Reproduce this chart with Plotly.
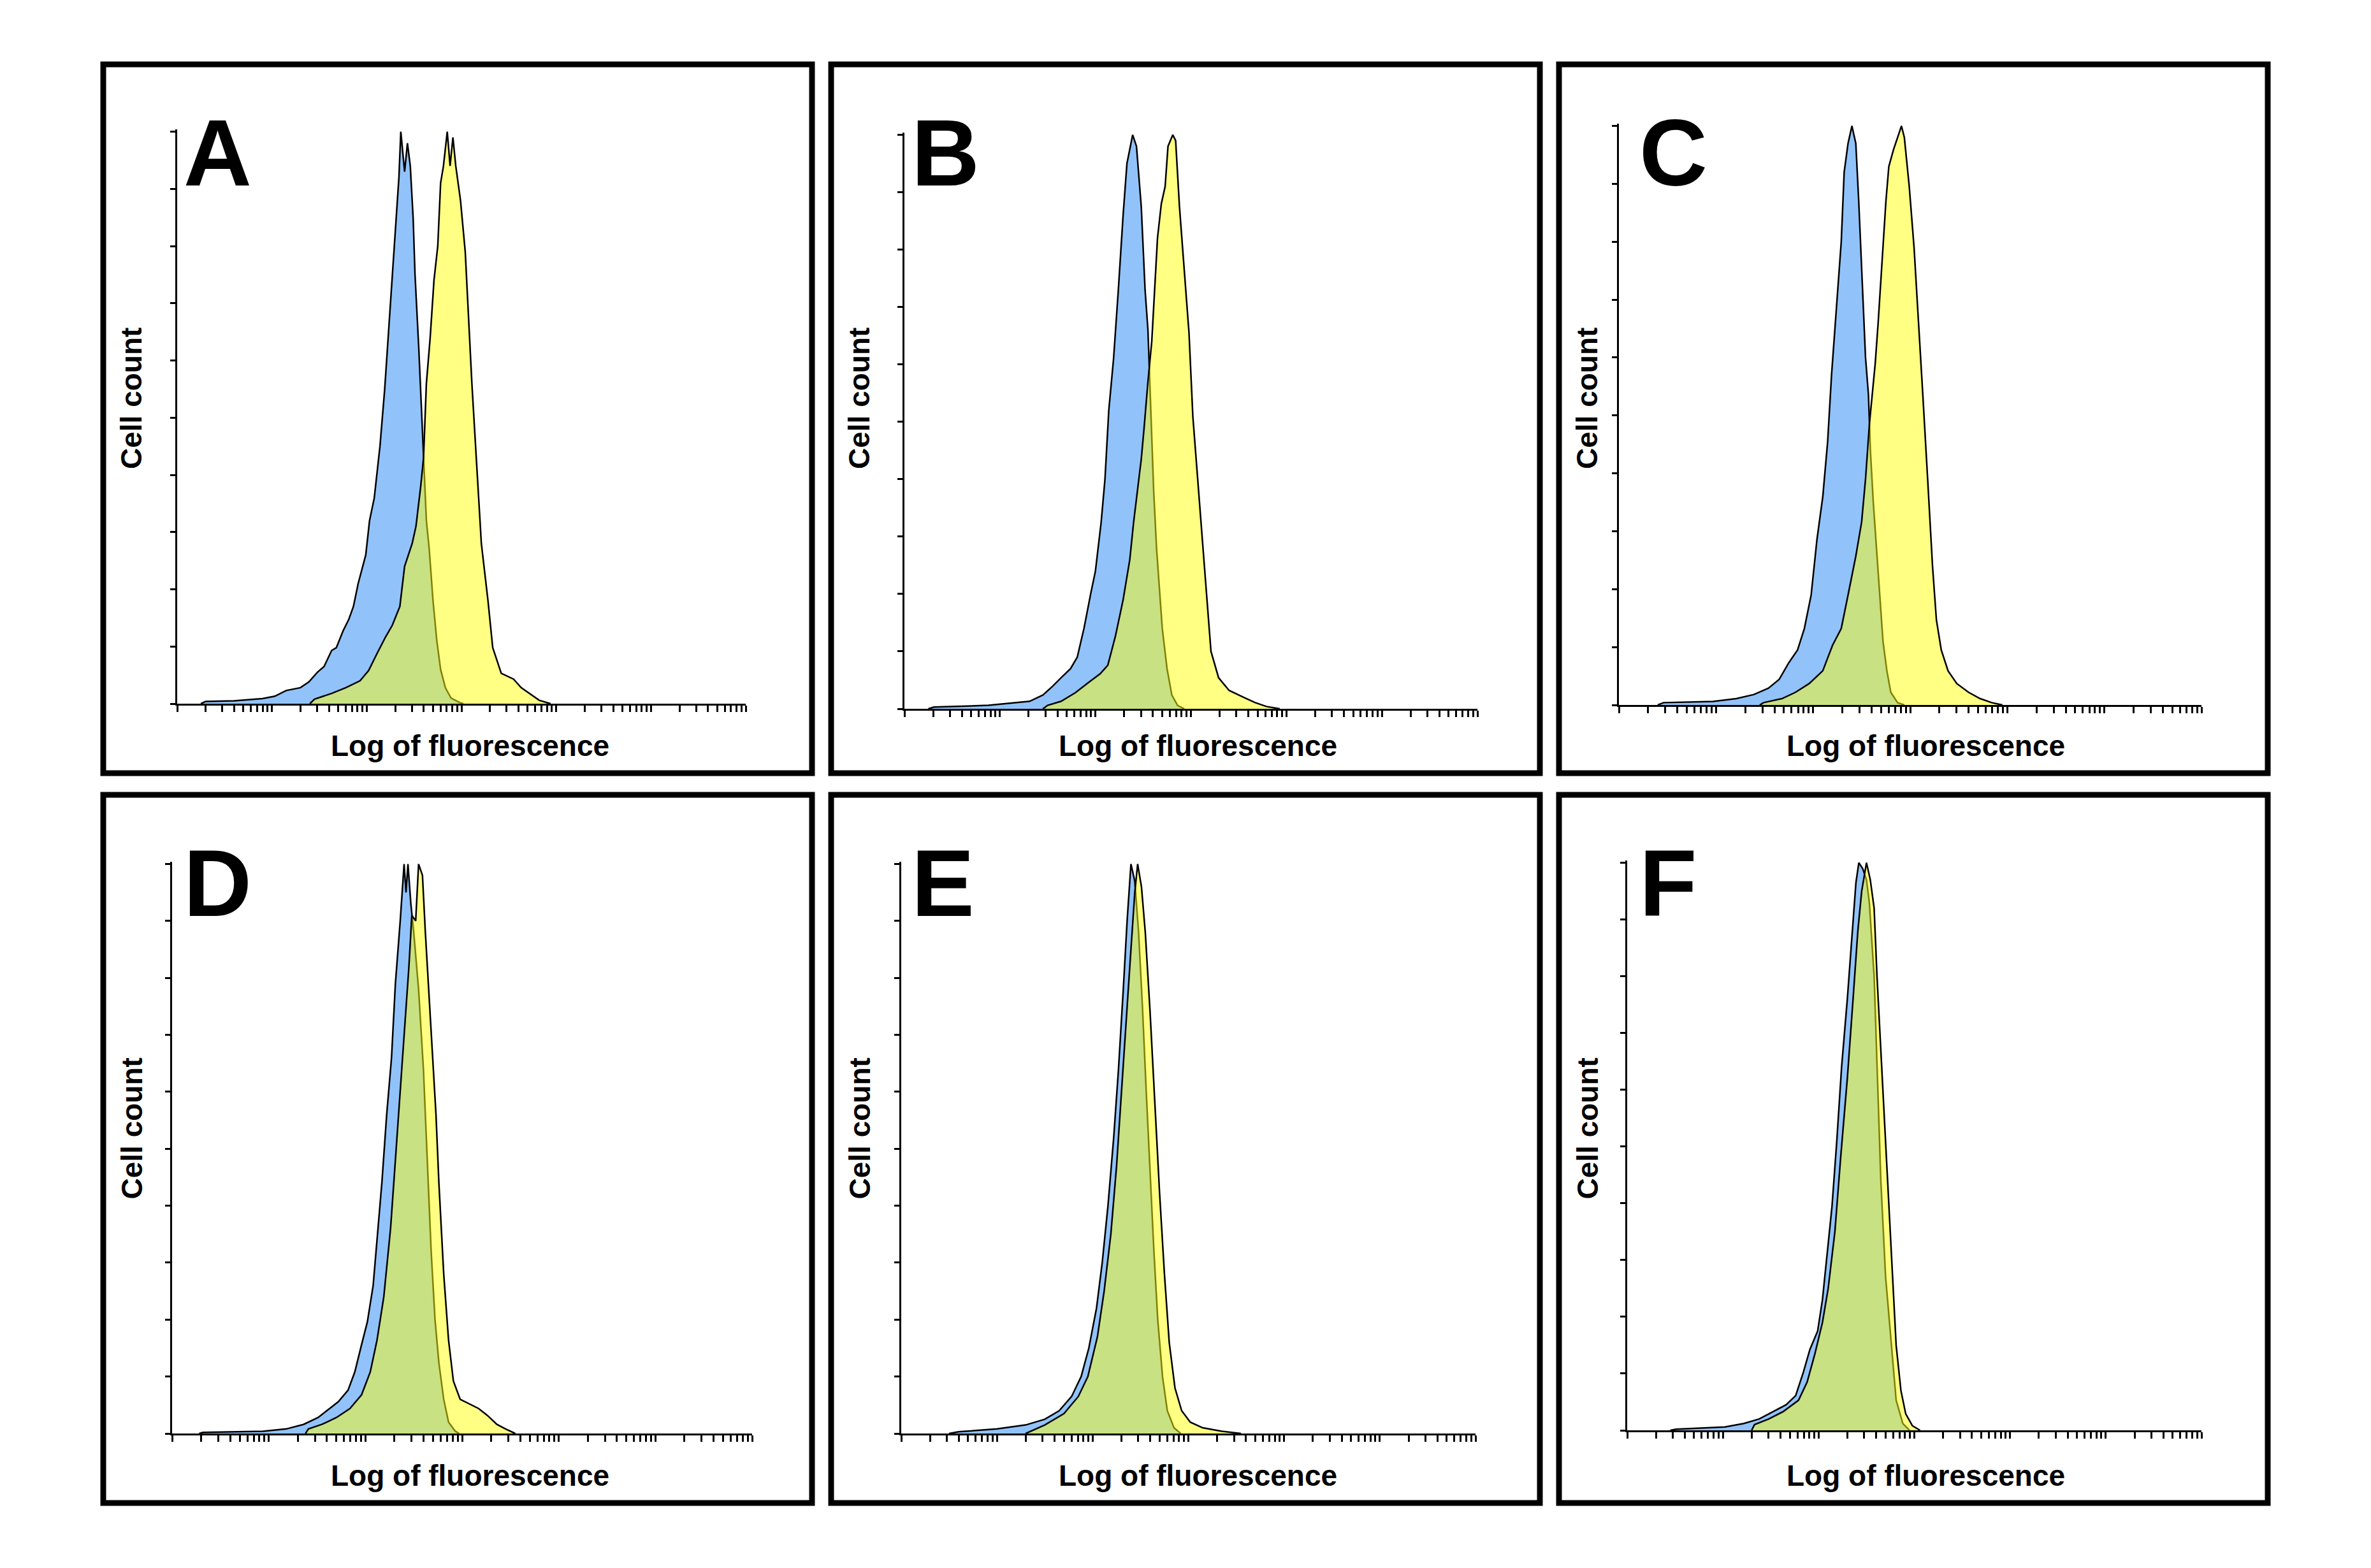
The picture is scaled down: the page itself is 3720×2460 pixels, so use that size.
import plotly.graph_objects as go

W, H = 3720, 2460

# ---------------- data: log10 fluorescence (decades) and cell count (% of max) ----------------
A_blue_lg = [0.25, 0.30, 0.60, 0.90, 1.03, 1.15, 1.30, 1.39, 1.48, 1.55, 1.63, 1.68, 1.75, 1.81, 1.86, 1.91, 1.99, 2.03, 2.08, 2.14, 2.19, 2.24, 2.28, 2.31, 2.34, 2.36, 2.40, 2.43, 2.46, 2.49, 2.51, 2.55, 2.58, 2.60, 2.63, 2.66, 2.70, 2.74, 2.78, 2.83, 2.89, 2.98, 3.02]
A_blue_ct = [0, 0.4, 0.5, 0.9, 1.3, 2.3, 2.8, 3.8, 5.5, 6.5, 9.3, 9.8, 12.7, 14.7, 17, 21, 26, 32, 36, 45, 55, 67, 77, 85, 92, 100, 93, 98, 94, 85, 75, 62, 50, 43, 32, 27, 18, 11, 6, 2.8, 1.0, 0.2, 0]
A_yel_lg = [1.40, 1.45, 1.63, 1.78, 1.93, 2.02, 2.11, 2.20, 2.27, 2.35, 2.40, 2.48, 2.52, 2.57, 2.60, 2.63, 2.67, 2.71, 2.75, 2.78, 2.81, 2.85, 2.88, 2.91, 2.94, 2.99, 3.04, 3.06, 3.11, 3.16, 3.21, 3.28, 3.33, 3.42, 3.55, 3.63, 3.73, 3.82, 3.94]
A_yel_ct = [0, 0.8, 1.8, 2.8, 4, 5.8, 8.8, 11.7, 13.7, 17, 24, 28, 31, 38, 43, 56, 64, 74, 80, 91, 94, 100, 94, 99, 94, 88, 79, 72, 56, 42, 28, 18, 9.8, 5.3, 4.3, 2.8, 1.6, 0.6, 0]

B_blue_lg = [0.25, 0.31, 0.88, 1.12, 1.31, 1.45, 1.55, 1.64, 1.74, 1.81, 1.88, 1.95, 2.00, 2.06, 2.10, 2.14, 2.19, 2.24, 2.29, 2.33, 2.39, 2.43, 2.48, 2.52, 2.55, 2.58, 2.61, 2.64, 2.67, 2.70, 2.75, 2.80, 2.86, 2.93]
B_blue_ct = [0, 0.3, 0.6, 1.0, 1.3, 2.4, 3.9, 5.4, 7, 9, 14, 20, 24, 32.5, 40, 52, 61, 73, 86, 95, 100, 98, 87.5, 73, 66, 52, 38, 28, 21.5, 14, 7, 2.4, 0.6, 0]
B_yel_lg = [1.45, 1.50, 1.64, 1.79, 1.93, 2.05, 2.13, 2.21, 2.29, 2.36, 2.40, 2.44, 2.48, 2.51, 2.55, 2.59, 2.62, 2.65, 2.69, 2.73, 2.76, 2.81, 2.84, 2.88, 2.93, 2.98, 3.02, 3.07, 3.12, 3.17, 3.21, 3.29, 3.40, 3.55, 3.67, 3.79, 3.93]
B_yel_ct = [0, 0.6, 1.3, 2.8, 4.6, 6.1, 7.6, 12.7, 19, 26, 32.5, 38, 43.5, 49, 57, 64, 73, 82, 88, 91, 98, 100, 99, 87.5, 76.5, 65.5, 51, 40, 29, 19, 10, 5.4, 3.2, 2, 1.1, 0.4, 0]

C_blue_lg = [0.40, 0.46, 0.97, 1.21, 1.39, 1.54, 1.65, 1.75, 1.84, 1.91, 1.98, 2.04, 2.10, 2.15, 2.19, 2.24, 2.29, 2.32, 2.36, 2.40, 2.44, 2.47, 2.51, 2.54, 2.57, 2.59, 2.62, 2.65, 2.69, 2.72, 2.76, 2.80, 2.87, 2.94]
C_blue_ct = [0, 0.4, 0.6, 1.1, 1.8, 2.9, 4.4, 7.3, 9.5, 13.2, 19, 28.6, 36, 45.5, 57, 68, 80, 92, 97, 100, 97, 87, 72, 60, 53.6, 44, 35, 28, 19, 11, 5.9, 2.2, 0.4, 0]
C_yel_lg = [1.45, 1.49, 1.68, 1.82, 1.96, 2.10, 2.20, 2.29, 2.36, 2.44, 2.50, 2.54, 2.58, 2.61, 2.64, 2.67, 2.71, 2.75, 2.78, 2.83, 2.87, 2.91, 2.94, 2.99, 3.04, 3.08, 3.13, 3.18, 3.23, 3.27, 3.32, 3.39, 3.48, 3.60, 3.72, 3.84, 3.95]
C_yel_ct = [0, 0.4, 1.1, 2.2, 3.7, 5.9, 10.3, 13.2, 19, 25.7, 31.6, 39, 48.5, 54, 59, 66, 76, 87, 93, 96, 98, 100, 98, 89.6, 79, 68, 53.6, 39, 24, 14.7, 9.5, 5.9, 3.7, 2.2, 1.1, 0.4, 0]

D_blue_lg = [0.28, 0.32, 0.94, 1.18, 1.36, 1.51, 1.63, 1.72, 1.82, 1.89, 1.96, 2.02, 2.08, 2.12, 2.17, 2.22, 2.27, 2.31, 2.36, 2.40, 2.42, 2.44, 2.47, 2.50, 2.55, 2.60, 2.64, 2.68, 2.72, 2.76, 2.81, 2.86, 2.93, 2.97]
D_blue_ct = [0, 0.2, 0.4, 0.8, 1.6, 2.8, 4.4, 5.6, 7.6, 10.8, 15.6, 19.6, 26, 34, 44, 56, 66, 79, 90, 100, 95, 100, 93, 88, 78, 64, 48, 32, 20, 12.4, 6, 2, 0.4, 0]
D_yel_lg = [1.38, 1.41, 1.55, 1.70, 1.84, 1.96, 2.05, 2.12, 2.19, 2.26, 2.31, 2.36, 2.41, 2.45, 2.48, 2.52, 2.55, 2.59, 2.62, 2.65, 2.69, 2.73, 2.76, 2.81, 2.86, 2.91, 2.98, 3.07, 3.17, 3.26, 3.36, 3.45, 3.55]
D_yel_ct = [0, 0.8, 1.6, 2.8, 4.4, 6.8, 10.8, 16.4, 24, 36, 48, 60, 72, 82, 91, 90, 100, 98, 88, 79, 67, 56, 44, 28, 16.4, 9.2, 6, 5.2, 4.4, 3.2, 1.6, 0.8, 0]

E_blue_lg = [0.50, 0.60, 1.00, 1.30, 1.50, 1.65, 1.78, 1.88, 1.96, 2.04, 2.10, 2.16, 2.22, 2.27, 2.32, 2.36, 2.40, 2.44, 2.48, 2.52, 2.56, 2.60, 2.64, 2.68, 2.73, 2.78, 2.85, 2.92]
E_blue_ct = [0, 0.3, 0.8, 1.5, 2.5, 4, 6.5, 10, 15, 22, 30, 40, 52, 64, 78, 90, 100, 97, 88, 75, 60, 46, 32, 20, 10, 4, 1, 0]
E_yel_lg = [1.30, 1.50, 1.70, 1.85, 1.95, 2.05, 2.12, 2.19, 2.25, 2.30, 2.35, 2.40, 2.44, 2.47, 2.51, 2.55, 2.60, 2.65, 2.70, 2.75, 2.80, 2.86, 2.93, 3.02, 3.15, 3.35, 3.55]
E_yel_ct = [0, 1.5, 3.5, 6.5, 10, 17, 25, 35, 47, 60, 72, 85, 95, 100, 96, 88, 74, 58, 42, 28, 16, 8, 4, 2, 1, 0.4, 0]

F_blue_lg = [0.45, 0.51, 1.02, 1.22, 1.38, 1.53, 1.66, 1.76, 1.84, 1.91, 1.99, 2.04, 2.09, 2.14, 2.19, 2.24, 2.30, 2.35, 2.39, 2.42, 2.46, 2.50, 2.53, 2.58, 2.61, 2.65, 2.70, 2.76, 2.81, 2.88, 2.95]
F_blue_ct = [0, 0.2, 0.6, 1.2, 2, 3.3, 4.5, 6.1, 10.2, 14.3, 17.5, 23, 31, 39.5, 51, 64, 76, 88, 96.5, 100, 99, 97, 93, 80, 64, 44, 27, 15, 5.3, 1.2, 0]
F_yel_lg = [1.30, 1.33, 1.48, 1.63, 1.79, 1.88, 1.96, 2.04, 2.10, 2.17, 2.23, 2.30, 2.36, 2.41, 2.45, 2.48, 2.50, 2.54, 2.58, 2.61, 2.65, 2.69, 2.73, 2.77, 2.81, 2.86, 2.91, 2.98, 3.06]
F_yel_ct = [0, 1, 2, 3.3, 5.3, 8.5, 13.4, 19, 25, 35, 48, 62, 76, 88, 95, 98, 100, 97, 92, 80, 67, 54, 41, 27, 15, 7, 2.9, 0.8, 0]

panel_labels = ["A", "B", "C", "D", "E", "F"]
x_title = "Log of fluorescence"
y_title = "Cell count"
decades = 6

series = {
    "A": (A_blue_lg, A_blue_ct, A_yel_lg, A_yel_ct),
    "B": (B_blue_lg, B_blue_ct, B_yel_lg, B_yel_ct),
    "C": (C_blue_lg, C_blue_ct, C_yel_lg, C_yel_ct),
    "D": (D_blue_lg, D_blue_ct, D_yel_lg, D_yel_ct),
    "E": (E_blue_lg, E_blue_ct, E_yel_lg, E_yel_ct),
    "F": (F_blue_lg, F_blue_ct, F_yel_lg, F_yel_ct),
}

# ---------------- layout geometry (pixels) ----------------
frames = {
    "A": (162, 101, 1274, 1213), "B": (1304, 101, 2416, 1213), "C": (2446, 101, 3558, 1213),
    "D": (162, 1247, 1274, 2358), "E": (1304, 1247, 2416, 2358), "F": (2446, 1247, 3558, 2358),
}
plot_boxes = {
    "A": (278, 203, 1170, 1104), "B": (1419, 208, 2318, 1112), "C": (2540, 194, 3454, 1106),
    "D": (270, 1352, 1180, 2249), "E": (1414, 1352, 2315, 2249), "F": (2553, 1350, 3454, 2244),
}

BLUE = "rgb(145,195,250)"
YELLOW = "rgba(255,255,10,0.5)"
FONT = "Liberation Sans, Arial, sans-serif"

fig = go.Figure()
tickvals = [k * 10 ** j for j in range(decades) for k in range(1, 10)] + [10 ** decades]

annotations = []
shapes = []
for i, key in enumerate(panel_labels):
    sfx = "" if i == 0 else str(i + 1)
    xa, ya = "x" + sfx, "y" + sfx
    b_lg, b_ct, y_lg, y_ct = series[key]
    for lg, ct, col in ((b_lg, b_ct, BLUE), (y_lg, y_ct, YELLOW)):
        fig.add_trace(go.Scatter(
            x=[10 ** v for v in lg], y=ct, xaxis=xa, yaxis=ya, mode="lines",
            line=dict(color="black", width=2.5), fill="tozeroy", fillcolor=col,
            hoverinfo="skip", showlegend=False))
    x0, y0, x1, y1 = plot_boxes[key]
    fig.layout["xaxis" + sfx] = dict(
        domain=[x0 / W, x1 / W], anchor=ya, type="log", range=[0, decades],
        showline=True, linecolor="black", linewidth=3, ticks="outside", ticklen=10,
        tickwidth=3, tickcolor="black", tickvals=tickvals, showticklabels=False,
        showgrid=False, zeroline=False, fixedrange=True)
    fig.layout["yaxis" + sfx] = dict(
        domain=[1 - y1 / H, 1 - y0 / H], anchor=xa, range=[0, 100.4],
        showline=True, linecolor="black", linewidth=3, ticks="outside", ticklen=8,
        tickwidth=3, tickcolor="black", tick0=0, dtick=10, showticklabels=False,
        showgrid=False, zeroline=False, fixedrange=True)
    fx0, fy0, fx1, fy1 = frames[key]
    shapes.append(dict(type="rect", xref="paper", yref="paper",
                       x0=fx0 / W, x1=fx1 / W, y0=1 - fy1 / H, y1=1 - fy0 / H,
                       line=dict(color="black", width=9), fillcolor="rgba(0,0,0,0)"))
    # panel letter
    annotations.append(dict(text=key, xref="paper", yref="paper",
                            x=(fx0 + 124) / W, y=1 - (fy0 + 139) / H, xanchor="left", yanchor="middle",
                            showarrow=False, font=dict(family=FONT, size=148, color="black", weight="bold")))
    # axis titles
    annotations.append(dict(text=y_title, xref="paper", yref="paper",
                            x=(fx0 + 44) / W, y=1 - ((fy0 + fy1) / 2 - 32) / H, textangle=-90,
                            xanchor="center", yanchor="middle", showarrow=False,
                            font=dict(family=FONT, size=46, color="black", weight="bold")))
    annotations.append(dict(text=x_title, xref="paper", yref="paper",
                            x=((fx0 + fx1) / 2 + 19) / W, y=1 - (fy1 - 43) / H,
                            xanchor="center", yanchor="middle", showarrow=False,
                            font=dict(family=FONT, size=46, color="black", weight="bold")))

fig.update_layout(width=W, height=H, margin=dict(l=0, r=0, t=0, b=0),
                  paper_bgcolor="white", plot_bgcolor="white",
                  annotations=annotations, shapes=shapes)
fig.write_html("out.html")
